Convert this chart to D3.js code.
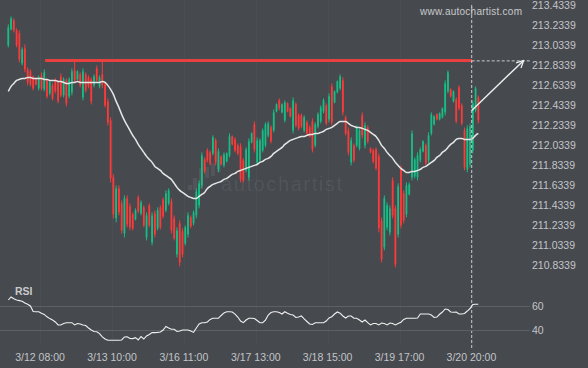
<!DOCTYPE html>
<html>
<head>
<style>
    body { margin: 0; background: #46494e; }
    svg { display: block; }
    text { font-family: "Liberation Sans", Arial, sans-serif; }
</style>
</head>
<body>
<script src="https://d3js.org/d3.v7.min.js"></script>
<script>
// hourly candles, 3/11 evening .. 3/20 evening
const candleOpen = [213.03,213.19,213.28,213.18,213.15,212.85,213.00,212.79,212.77,212.71,
    212.70,212.60,212.73,212.59,212.68,212.55,212.63,212.68,212.66,212.72,
    212.53,212.68,212.52,212.56,212.78,212.69,212.74,212.51,212.74,212.71,
    212.69,212.63,212.80,212.62,212.74,212.64,212.47,212.28,211.71,211.30,
    211.60,211.45,211.15,211.50,211.42,211.34,211.29,211.51,211.35,211.41,
    211.11,211.43,211.06,211.35,211.20,211.41,211.49,211.38,211.45,211.47,
    211.30,210.94,211.25,211.17,211.05,211.14,211.31,211.25,211.33,211.43,
    211.63,211.89,211.98,211.96,211.95,212.08,211.79,211.92,211.83,211.87,
    211.93,212.12,212.09,212.03,212.02,211.88,211.78,211.71,212.06,212.24,
    211.86,211.88,211.98,212.03,212.13,212.21,212.18,212.37,212.48,212.36,
    212.28,212.45,212.40,212.18,212.44,212.33,212.33,212.18,212.26,212.21,
    212.27,212.03,212.22,212.27,212.37,212.43,212.29,212.62,212.46,212.56,
    212.60,212.68,212.31,212.18,211.86,212.03,212.03,212.00,212.33,212.03,
    212.21,212.00,211.98,211.99,211.92,211.28,211.01,211.21,211.16,211.68,
    211.40,211.14,211.80,211.55,211.34,211.54,211.71,211.72,211.71,211.88,
    211.97,212.03,211.88,212.15,212.24,212.34,212.29,212.31,212.36,212.57,
    212.59,212.47,212.49,212.61,212.43,212.18,211.79,211.84,211.98,212.38,
    212.51];
const candleHigh = [213.24,213.32,213.30,213.20,213.18,213.01,213.04,212.81,212.79,212.73,
    212.71,212.73,212.76,212.79,212.70,212.68,212.65,212.70,212.68,212.75,
    212.71,212.70,212.71,212.80,212.89,212.78,212.76,212.80,212.76,212.73,
    212.71,212.74,212.83,212.73,212.89,212.66,212.50,212.31,211.74,211.63,
    211.63,211.48,211.53,211.53,211.45,211.36,211.40,211.53,211.48,211.43,
    211.36,211.45,211.36,211.38,211.41,211.43,211.51,211.58,211.60,211.50,
    211.33,211.21,211.28,211.20,211.23,211.36,211.33,211.38,211.60,211.68,
    211.96,211.91,212.00,211.98,212.13,212.10,212.00,211.93,211.96,211.96,
    212.15,212.13,212.11,212.05,212.05,211.90,212.01,212.10,212.16,212.27,
    212.11,212.10,212.20,212.26,212.27,212.23,212.39,212.45,212.50,212.45,
    212.48,212.46,212.41,212.51,212.46,212.35,212.35,212.33,212.28,212.23,
    212.30,212.26,212.36,212.43,212.50,212.45,212.55,212.65,212.58,212.68,
    212.74,212.71,212.33,212.21,212.11,212.05,212.23,212.20,212.36,212.26,
    212.23,212.01,212.00,212.01,211.95,211.31,211.53,211.46,211.43,211.71,
    211.43,211.65,211.83,211.58,211.66,211.66,212.18,211.91,211.96,212.01,
    212.08,212.05,212.16,212.36,212.33,212.35,212.36,212.41,212.68,212.78,
    212.60,212.58,212.51,212.63,212.45,212.21,212.23,212.25,212.48,212.62,
    212.53];
const candleLow = [213.01,213.18,213.16,213.01,212.86,212.83,212.76,212.63,212.62,212.58,
    212.63,212.58,212.58,212.57,212.50,212.53,212.48,212.55,212.45,212.51,
    212.51,212.42,212.50,212.53,212.66,212.68,212.61,212.48,212.56,212.60,
    212.44,212.61,212.66,212.60,212.60,212.41,212.23,211.66,211.30,211.26,
    211.33,211.15,211.11,211.21,211.18,211.18,211.28,211.35,211.33,211.21,
    211.08,211.21,211.03,211.11,211.18,211.19,211.30,211.36,211.43,211.15,
    211.08,210.91,210.82,210.91,211.03,211.11,211.20,211.23,211.30,211.40,
    211.60,211.75,211.86,211.83,211.93,211.83,211.76,211.83,211.81,211.86,
    211.91,212.03,211.96,211.93,211.66,211.66,211.76,211.68,212.05,211.96,
    211.83,211.86,211.96,212.01,212.11,212.05,212.16,212.36,212.38,212.35,
    212.26,212.36,212.31,212.15,212.21,212.18,212.20,212.16,212.13,212.11,
    211.96,212.01,212.20,212.25,212.35,212.23,212.26,212.23,212.45,212.55,
    212.58,212.33,212.13,211.93,211.83,211.86,212.01,211.98,212.10,212.00,
    212.05,211.95,211.85,211.78,211.16,210.86,210.98,211.18,211.13,211.30,
    210.81,211.11,211.20,211.25,211.31,211.53,211.68,211.70,211.68,211.86,
    211.96,211.83,211.85,212.13,212.23,212.28,212.28,212.30,212.33,212.55,
    212.51,212.46,212.25,212.38,212.23,211.78,211.76,211.81,211.95,212.36,
    212.25];
const candleClose = [213.21,213.30,213.18,213.03,212.89,212.99,212.79,212.66,212.64,212.60,
    212.64,212.71,212.60,212.76,212.52,212.66,212.50,212.57,212.47,212.53,
    212.69,212.45,212.69,212.77,212.68,212.77,212.63,212.77,212.58,212.62,
    212.47,212.72,212.68,212.71,212.63,212.43,212.26,211.70,211.34,211.60,
    211.36,211.18,211.50,211.24,211.21,211.20,211.38,211.37,211.46,211.23,
    211.33,211.23,211.33,211.14,211.38,211.21,211.32,211.55,211.58,211.18,
    211.10,211.18,210.86,210.94,211.21,211.33,211.22,211.36,211.57,211.65,
    211.93,211.77,211.88,211.85,212.11,211.86,211.97,211.84,211.94,211.95,
    212.12,212.04,211.98,211.95,211.69,211.68,211.99,212.07,212.15,211.99,
    212.08,212.08,212.18,212.24,212.25,212.07,212.36,212.44,212.40,212.44,
    212.46,212.37,212.32,212.48,212.23,212.20,212.22,212.31,212.15,212.12,
    211.99,212.24,212.34,212.41,212.48,212.25,212.52,212.26,212.57,212.67,
    212.72,212.36,212.15,211.96,212.08,211.88,212.21,212.18,212.13,212.23,
    212.07,211.96,211.87,211.80,211.20,210.89,211.50,211.43,211.40,211.33,
    210.84,211.62,211.23,211.28,211.63,211.64,212.15,211.89,211.93,211.99,
    212.07,211.85,212.13,212.34,212.32,212.29,212.35,212.40,212.65,212.76,
    212.52,212.57,212.27,212.40,212.25,211.81,212.20,212.22,212.45,212.60,
    212.28];

// moving average
const maValues = [212.57,212.62,212.65,212.68,212.69,212.70,212.70,212.71,212.71,212.70,
    212.70,212.70,212.70,212.69,212.69,212.68,212.68,212.68,212.67,212.67,
    212.66,212.65,212.65,212.66,212.66,212.67,212.66,212.66,212.66,212.66,
    212.66,212.66,212.66,212.66,212.67,212.66,212.63,212.59,212.54,212.47,
    212.41,212.34,212.28,212.23,212.18,212.13,212.09,212.04,212.00,211.96,
    211.92,211.89,211.86,211.82,211.80,211.78,211.75,211.73,211.71,211.69,
    211.65,211.61,211.58,211.56,211.54,211.52,211.51,211.50,211.50,211.52,
    211.54,211.56,211.60,211.62,211.64,211.65,211.66,211.67,211.69,211.70,
    211.72,211.74,211.75,211.77,211.78,211.79,211.80,211.81,211.82,211.83,
    211.84,211.86,211.87,211.89,211.90,211.92,211.95,211.97,211.99,212.01,
    212.04,212.06,212.08,212.09,212.10,212.11,212.12,212.12,212.13,212.14,
    212.14,212.15,212.15,212.16,212.17,212.19,212.20,212.21,212.23,212.25,
    212.27,212.27,212.27,212.25,212.23,212.22,212.21,212.21,212.20,212.19,
    212.18,212.16,212.14,212.12,212.08,212.03,212.00,211.96,211.93,211.90,
    211.86,211.83,211.80,211.78,211.76,211.76,211.77,211.77,211.78,211.79,
    211.81,211.82,211.84,211.86,211.88,211.91,211.93,211.96,211.98,212.01,
    212.04,212.06,212.09,212.10,212.10,212.09,212.09,212.09,212.10,212.13,
    212.15];

const rsiValues = [65,67.5,66,65,64.5,64,62.5,61.5,60,55.4,
    55.2,55.2,54,53,51,49.5,48.3,46.7,44.2,44.2,
    45.4,46.1,46.1,46.1,44.2,45.4,45,44.2,43.7,41.7,
    40,38.8,38.6,37,34.2,32.5,31.4,31.4,31.4,31.4,
    31.4,31.7,34.2,34.4,32.9,32.8,33.6,31.7,34.6,32.5,
    35,36.3,37.8,37.8,38,38.3,40,42.9,41.7,40.6,
    40.6,38.8,39.2,40,40,40,39.2,38,41.7,45,
    46.1,46.1,46.7,48.8,49.8,49.8,49.8,52.1,54.2,55.2,
    55.2,55,53.3,50.8,47.5,46.1,48.3,49.8,49.8,49.6,
    47.9,46.1,46.1,48.3,52.5,54.6,55.2,55.2,54.6,53.3,
    55.2,54,52.9,52.5,50.4,50.8,51.7,49.2,47.1,45,
    44.6,46.1,46.1,46.1,46.1,47.5,50,51.1,53.3,55,
    54,51.7,50,51.7,51.7,49.8,49.8,48.3,46.7,48.3,
    46.2,44.2,45.4,45.4,44.2,45.8,45.4,44.2,45.8,45.4,
    44.2,45.4,46.5,48.8,49.8,49.8,49.8,49.8,50,53.3,
    53.3,53.3,53.3,52.5,50.4,50.8,53.1,55,57.5,57.1,
    55,54.8,55,53.3,53.3,53.8,55.8,57.9,61.3,61.4,
    61.4];

const priceTicks = [213.4339,213.2339,213.0339,212.8339,212.6339,212.4339,212.2339,
    212.0339,211.8339,211.6339,211.4339,211.2339,211.0339,210.8339];
const rsiTicks = [60, 40];
const timeTickIdx = [11.5, 37.5, 63.5, 89.5, 115.5, 141.5, 167.5];
const timeLabels = ["3/12 08:00","3/13 10:00","3/16 11:00","3/17 13:00","3/18 15:00","3/19 17:00","3/20 20:00"];

// pattern
const resistance = 212.88;
const resistanceFrom = 13.3;
const breakIdx = 167.6;
const arrowFrom = [167.6, 212.38];
const arrowTo = [186.4, 212.88];

const width = 588, height = 368;
const bg = "#46494e";
const up = "#16bd84", down = "#fb3a3a";
const txt = "#c3c5c8";

const svg = d3.select("body").append("svg").attr("width", width).attr("height", height);
svg.append("rect").attr("width", width).attr("height", height).attr("fill", bg);

const x = d3.scaleLinear().domain([0, 170]).range([8.3, 8.3 + 170 * 2.765]);
const y = d3.scaleLinear().domain([210.8339, 213.4339]).range([265, 5]);
const yr = d3.scaleLinear().domain([40, 60]).range([330, 306]);
const plotRight = 530;

// faint vertical grid at time ticks
svg.append("g").selectAll("line").data(timeTickIdx).enter().append("line")
    .attr("x1", d => Math.round(x(d)) + 0.5).attr("x2", d => Math.round(x(d)) + 0.5)
    .attr("y1", 0).attr("y2", 345)
    .attr("stroke", "#4b4e53").attr("stroke-width", 1);

// watermark
const wm = svg.append("g").attr("fill", "#ffffff").attr("fill-opacity", 0.07);
[[188, 185, 190], [193, 178, 190], [199, 168, 189], [205, 167, 178], [211, 163, 176], [217, 160, 172]]
    .forEach(b => wm.append("rect").attr("x", b[0]).attr("y", b[1]).attr("width", 4).attr("height", b[2] - b[1]));
wm.append("text").attr("x", 221).attr("y", 191).attr("font-size", 20).attr("letter-spacing", 1.6)
    .text("autochartist");

svg.append("text").attr("x", 420).attr("y", 15).attr("font-size", 10).attr("letter-spacing", 0.25)
    .attr("fill", "#c8cacc").text("www.autochartist.com");

// resistance line
svg.append("line")
    .attr("x1", x(resistanceFrom)).attr("x2", x(breakIdx))
    .attr("y1", y(resistance)).attr("y2", y(resistance))
    .attr("stroke", "#e8403f").attr("stroke-width", 3);
svg.append("line")
    .attr("x1", x(breakIdx)).attr("x2", plotRight)
    .attr("y1", y(resistance) + 0.5).attr("y2", y(resistance) + 0.5)
    .attr("stroke", "#c9cbcd").attr("stroke-width", 1).attr("stroke-dasharray", "3,2");

// candles
const candles = d3.range(candleOpen.length).map(i => ({
    i: i, o: candleOpen[i], h: candleHigh[i], l: candleLow[i], c: candleClose[i]
}));
const cg = svg.append("g");
cg.selectAll("line").data(candles).enter().append("line")
    .attr("x1", d => x(d.i)).attr("x2", d => x(d.i))
    .attr("y1", d => y(d.h)).attr("y2", d => y(d.l))
    .attr("stroke", d => d.c >= d.o ? up : down).attr("stroke-width", 1);
cg.selectAll("rect").data(candles).enter().append("rect")
    .attr("x", d => x(d.i) - 0.9).attr("width", 1.8)
    .attr("y", d => y(Math.max(d.o, d.c)))
    .attr("height", d => Math.max(1, Math.abs(y(d.o) - y(d.c))))
    .attr("fill", d => d.c >= d.o ? up : down);

// moving average
svg.append("path").datum(maValues)
    .attr("fill", "none").attr("stroke", "#e6e6e6").attr("stroke-width", 1.5)
    .attr("d", d3.line().x((d, i) => x(i)).y(d => y(d)).curve(d3.curveMonotoneX));

// break marker and arrow
svg.append("line")
    .attr("x1", x(breakIdx)).attr("x2", x(breakIdx)).attr("y1", 5).attr("y2", 350)
    .attr("stroke", "#c9cbcd").attr("stroke-width", 1).attr("stroke-dasharray", "3,2");

svg.append("defs").append("marker").attr("id", "head")
    .attr("viewBox", "0 0 10 10").attr("refX", 9).attr("refY", 5)
    .attr("markerWidth", 9).attr("markerHeight", 9).attr("markerUnits", "userSpaceOnUse")
    .attr("orient", "auto")
    .append("path").attr("d", "M1,1 L9,5 L1,9").attr("fill", "none")
    .attr("stroke", "#eeeeee").attr("stroke-width", 1.4);
svg.append("line")
    .attr("x1", x(arrowFrom[0])).attr("y1", y(arrowFrom[1]))
    .attr("x2", x(arrowTo[0])).attr("y2", y(arrowTo[1]))
    .attr("stroke", "#eeeeee").attr("stroke-width", 1.4).attr("marker-end", "url(#head)");

// price axis
const ya = svg.append("g").attr("transform", `translate(${532},0)`)
    .call(d3.axisRight(y).tickValues(priceTicks).tickFormat(d3.format(".4f")).tickSize(0).tickPadding(0));
ya.select(".domain").remove();
ya.selectAll("text").attr("fill", txt).attr("font-size", 10.5)
    .attr("font-family", "'Liberation Sans', Arial, sans-serif");

// RSI panel
svg.append("g").selectAll("line").data(rsiTicks).enter().append("line")
    .attr("x1", 0).attr("x2", plotRight)
    .attr("y1", d => Math.round(yr(d)) + 0.5).attr("y2", d => Math.round(yr(d)) + 0.5)
    .attr("stroke", "#5d6165").attr("stroke-width", 1);
svg.append("g").selectAll("text").data(rsiTicks).enter().append("text")
    .attr("x", 532).attr("y", d => yr(d)).attr("dy", "0.35em")
    .attr("font-size", 10.5).attr("fill", txt).text(d => d);
svg.append("text").attr("x", 15).attr("y", 295).attr("font-size", 10.5).attr("font-weight", "bold")
    .attr("fill", "#c8cacd").text("RSI");
svg.append("path").datum(rsiValues)
    .attr("fill", "none").attr("stroke", "#f0f0f0").attr("stroke-width", 1.1)
    .attr("d", d3.line().x((d, i) => x(i)).y(d => yr(d)));

// time axis
svg.append("g").selectAll("text").data(timeTickIdx).enter().append("text")
    .attr("x", d => x(d)).attr("y", 360.5).attr("text-anchor", "middle")
    .attr("font-size", 10.5).attr("fill", txt)
    .text((d, i) => timeLabels[i]);
</script>
</body>
</html>
